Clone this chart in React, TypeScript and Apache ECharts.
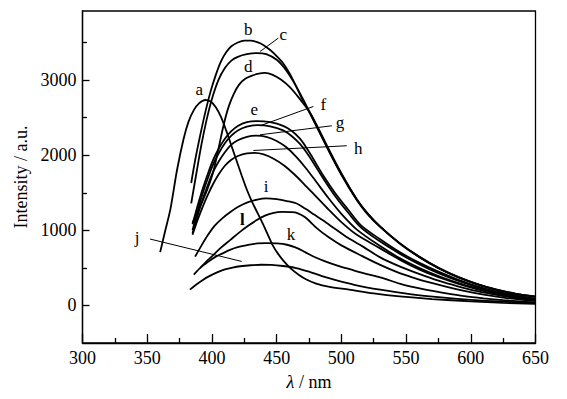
import React, { useEffect, useRef } from "react";
import * as echarts from "echarts";

type Pt = [number, number];

const curveA: Pt[] = [[360,710],[364,1000],[368,1290],[373,1800],[378,2210],[382,2450],[386,2600],[390,2690],[395,2735],[399,2715],[403,2640],[407,2510],[411,2330],[415,2130],[419,1930],[423,1730],[427,1540],[431,1380],[435,1240],[439,1100],[443,950],[447,800],[451,690],[456,580],[461,490],[467,410],[473,345],[480,295],[490,250],[506,210],[525,160],[545,120],[570,85],[600,55],[625,35],[650,20]];
const curveB: Pt[] = [[384,1630],[387,1930],[391,2270],[395,2580],[399,2850],[403,3070],[407,3250],[411,3370],[415,3450],[420,3500],[425,3525],[430,3525],[435,3505],[440,3465],[445,3400],[450,3320],[455,3225],[460,3090],[465,2920],[470,2740],[475,2580],[480,2410],[490,2070],[500,1750],[512,1410],[520,1230],[530,1050],[545,830],[560,650],[575,500],[590,380],[605,285],[620,210],[635,155],[650,120]];
const curveC: Pt[] = [[384,1360],[388,1760],[392,2150],[396,2480],[400,2750],[405,3000],[410,3160],[415,3260],[420,3310],[427,3345],[435,3360],[442,3345],[450,3270],[457,3140],[463,2980],[470,2760],[475,2590],[480,2420],[490,2070],[500,1740],[512,1400],[520,1220],[530,1045],[545,825],[560,645],[575,495],[590,375],[605,280],[620,205],[635,150],[650,115]];
const curveD: Pt[] = [[385,1100],[389,1250],[393,1400],[397,1570],[401,1780],[405,2080],[409,2400],[413,2650],[417,2820],[421,2940],[426,3020],[431,3060],[436,3085],[441,3095],[447,3070],[453,3010],[460,2910],[466,2790],[471,2680],[476,2560],[481,2400],[490,2090],[500,1760],[512,1410],[520,1230],[530,1050],[545,830],[560,650],[575,500],[590,380],[605,285],[620,210],[635,155],[650,115]];
const curveE: Pt[] = [[385,1080],[389,1330],[393,1560],[397,1760],[401,1940],[405,2080],[410,2220],[415,2320],[420,2390],[427,2440],[435,2455],[445,2440],[455,2390],[462,2320],[468,2220],[473,2100],[478,1960],[486,1730],[495,1500],[505,1280],[515,1070],[530,880],[545,710],[560,570],[575,450],[590,345],[605,255],[620,185],[635,130],[650,90]];
const curveF: Pt[] = [[385,1000],[389,1260],[393,1500],[397,1700],[401,1880],[405,2020],[410,2160],[415,2260],[420,2330],[427,2380],[435,2400],[445,2385],[455,2330],[462,2250],[468,2150],[473,2040],[478,1910],[486,1690],[495,1460],[505,1240],[515,1040],[530,850],[545,690],[560,550],[575,430],[590,330],[605,245],[620,175],[635,125],[650,85]];
const curveG: Pt[] = [[385,960],[389,1200],[393,1420],[397,1610],[401,1780],[405,1910],[410,2040],[415,2140],[420,2200],[427,2245],[434,2260],[442,2245],[450,2190],[458,2100],[465,1980],[472,1840],[480,1660],[490,1430],[500,1220],[512,1010],[530,790],[545,630],[560,500],[575,390],[590,300],[605,225],[620,160],[635,115],[650,80]];
const curveH: Pt[] = [[385,940],[389,1140],[393,1320],[397,1480],[401,1620],[405,1740],[410,1860],[415,1940],[420,1990],[427,2025],[433,2030],[440,2010],[448,1950],[456,1860],[464,1740],[472,1600],[480,1460],[490,1280],[500,1110],[512,940],[530,760],[545,610],[560,480],[575,375],[590,290],[605,215],[620,155],[635,110],[650,75]];
const curveI: Pt[] = [[387,650],[392,800],[397,940],[402,1060],[408,1160],[414,1240],[420,1310],[427,1370],[435,1410],[442,1425],[450,1415],[458,1390],[465,1360],[472,1290],[479,1210],[486,1130],[495,1020],[505,900],[517,780],[530,640],[545,520],[560,420],[575,330],[590,255],[605,190],[620,140],[635,100],[650,70]];
const curveL: Pt[] = [[391,500],[396,590],[401,670],[407,770],[414,870],[421,970],[428,1060],[435,1140],[441,1195],[447,1230],[454,1245],[461,1242],[466,1230],[472,1175],[481,1030],[490,910],[500,800],[517,650],[530,540],[545,430],[553,385],[565,320],[580,255],[595,195],[610,145],[625,105],[640,75],[650,60]];
const curveK: Pt[] = [[386,410],[391,500],[397,580],[403,650],[409,700],[414,740],[420,775],[428,805],[435,825],[442,830],[450,825],[458,808],[465,770],[472,710],[478,655],[487,590],[497,530],[507,480],[517,431],[530,375],[545,290],[553,253],[565,210],[580,165],[595,125],[610,95],[625,70],[640,50],[650,40]];
const curveJ: Pt[] = [[383,210],[388,280],[393,340],[398,390],[404,440],[410,480],[416,505],[422,522],[430,535],[438,542],[446,540],[455,525],[465,498],[475,450],[485,390],[495,340],[510,275],[530,210],[553,150],[575,110],[600,75],[625,50],[650,35]];

const curves: Pt[][] = [curveA, curveB, curveC, curveD, curveE, curveF, curveG, curveH, curveI, curveL, curveK, curveJ];

const labelNames = ["a", "b", "c", "d", "e", "f", "g", "h", "i", "l", "k", "j"];
const labelX = [390.3, 428.1, 455.2, 428.1, 432.8, 486.1, 499.0, 513.1, 441.8, 423.5, 461.1, 342.1];
const labelY = [2871, 3670, 3603, 3181, 2614, 2671, 2430, 2095, 1584, 1141, 941, 901];

const leaderLines: [number, number, number, number][] = [
  [437.2, 3381, 451.3, 3559],
  [437.2, 2392, 478.4, 2649],
  [437.2, 2272, 492.6, 2392],
  [432.0, 2063, 504.2, 2126],
  [352.2, 884, 423.0, 586],
];

const xTicks = [300, 350, 400, 450, 500, 550, 600, 650];
const yMajor = [0, 1000, 2000, 3000];
const yMinor = [500, 1500, 2500, 3500];

const FONT = "'Liberation Serif', 'Times New Roman', serif";

export default function App() {
  const ref = useRef<HTMLDivElement>(null);
  useEffect(() => {
    if (!ref.current) return;
    const chart = echarts.init(ref.current, undefined, { renderer: "svg" });
    const lineSeries = curves.map((c, i) => ({
      type: "line",
      name: labelNames[i],
      data: c,
      smooth: 0.3,
      showSymbol: false,
      symbol: "none",
      lineStyle: { color: "#000", width: 1.8 },
      xAxisIndex: 0,
      yAxisIndex: 0,
      z: 3,
    }));
    chart.setOption({
      animation: false,
      backgroundColor: "#fff",
      grid: {
        left: 82.5,
        right: 31.5,
        top: 11,
        bottom: 56,
        outerBoundsMode: "none",
        containLabel: false,
        show: true,
        borderColor: "#000",
        borderWidth: 1.3,
        backgroundColor: "transparent",
      },
      xAxis: {
        type: "value",
        min: xTicks[0],
        max: xTicks[xTicks.length - 1],
        interval: 50,
        name: "{i|λ} / nm",
        nameLocation: "middle",
        nameGap: 30,
        nameTextStyle: {
          fontFamily: FONT,
          fontSize: 18,
          color: "#000",
          rich: { i: { fontStyle: "italic", fontFamily: FONT, fontSize: 18, color: "#000" } },
        },
        axisLine: { onZero: false, lineStyle: { color: "#000", width: 1.3 } },
        axisTick: { inside: true, length: 9, lineStyle: { color: "#000", width: 1.3 } },
        minorTick: { show: true, splitNumber: 2, length: 5, lineStyle: { color: "#000", width: 1.3 } },
        axisLabel: { fontFamily: FONT, fontSize: 18, color: "#000", margin: 6, formatter: (v: number) => String(v) },
        splitLine: { show: false },
        minorSplitLine: { show: false },
      },
      yAxis: [
        {
          type: "value",
          min: -500,
          max: 3920,
          name: "Intensity / a.u.",
          nameLocation: "middle",
          nameGap: 50,
          nameRotate: 90,
          nameTextStyle: { fontFamily: FONT, fontSize: 18, color: "#000" },
          axisLine: { onZero: false, lineStyle: { color: "#000", width: 1.3 } },
          axisTick: { inside: true, length: 7, customValues: yMajor, lineStyle: { color: "#000", width: 1.3 } },
          axisLabel: { fontFamily: FONT, fontSize: 18, color: "#000", margin: 6, customValues: yMajor, formatter: (v: number) => String(v) },
          splitLine: { show: false },
        },
        {
          type: "value",
          min: -500,
          max: 3920,
          position: "left",
          axisLine: { show: true, onZero: false, lineStyle: { color: "rgba(0,0,0,0)", width: 1 } },
          axisTick: { show: true, inside: true, length: 4.5, customValues: yMinor, lineStyle: { color: "#000", width: 1.3 } },
          axisLabel: { show: false, customValues: yMinor },
          splitLine: { show: false },
        },
      ],
      series: [
        ...lineSeries,
        {
          type: "lines",
          coordinateSystem: "cartesian2d",
          polyline: false,
          lineStyle: { color: "#000", width: 1, opacity: 1 },
          data: leaderLines.map((l) => ({ coords: [[l[0], l[1]], [l[2], l[3]]] })),
          z: 4,
        },
      ],
    });
    const texts = labelNames.map((n, i) => {
      const p = chart.convertToPixel({ gridIndex: 0 }, [labelX[i], labelY[i]]) as number[];
      return {
        type: "text",
        x: p[0],
        y: p[1],
        z: 10,
        style: {
          text: n,
          fill: "#000",
          font: `${n === "l" ? "bold " : ""}17px ${FONT}`,
          align: "center",
          verticalAlign: "middle",
        },
      };
    });
    chart.setOption({ graphic: texts });
    return () => chart.dispose();
  }, []);
  return (
    <div
      ref={ref}
      style={{ position: "fixed", left: 0, top: 0, width: 567, height: 399 }}
    />
  );
}
